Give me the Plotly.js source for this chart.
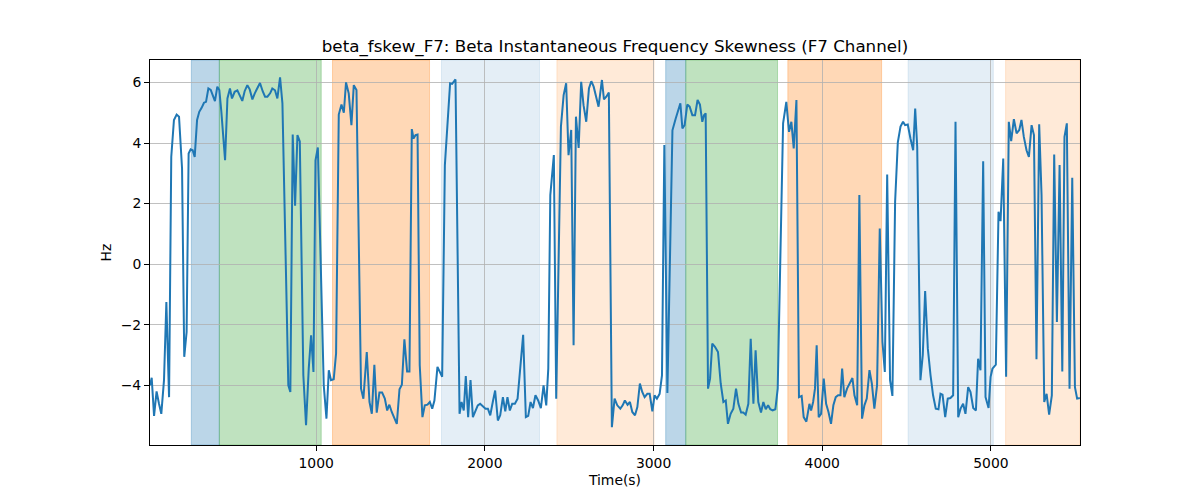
<!DOCTYPE html>
<html>
<head>
<meta charset="utf-8">
<script src="https://cdn.plot.ly/plotly-3.0.1.min.js"></script>
<style>html,body{margin:0;padding:0;background:#fff;}#chart{width:1200px;height:500px;}</style>
</head>
<body>
<div id="chart"></div>
<script>
// Time (s) of each sample
const timeSec = [15,25,39,54,68,82,98,112,128,141,157,173,187,205,218,232,244,256,268,280,294,307,321,335,347,361,375,386,400,414,426,438,450,460,474,489,501,517,533,547,562,576,592,606,622,636,651,667,683,697,711,727,740,756,770,786,800,
835,847,861,875,889,903,924,940,956,970,984,996,1010,1045,1061,1075,1088,1104,1118,1134,1150,1164,1177,1193,1209,1223,1239,
1266,1280,1300,1316,1330,1345,1359,1375,1391,1407,1421,1434,1448,1464,1478,1494,1508,1523,1539,1553,1567,1577,1589,1601,1614,1630,1644,1660,1674,1688,1701,1719,1733,1747,1763,1779,1794,1806,1816,1826,
1850,1862,1875,1887,1901,1915,1929,1945,1958,1972,1988,2004,2018,2032,2047,2061,2077,2091,2107,2121,2134,2148,2162,2178,2194,2210,2227,2243,2257,2271,2285,2300,2316,2332,2348,2364,2376,2388,2399,2409,2423,2437,2451,2467,2482,2496,2512,2526,2540,2556,2571,2585,2601,2617,2631,2645,2660,2674,2694,2706,2720,2735,
2753,2769,2785,2803,2817,2830,2846,2860,2874,2890,2904,2919,2933,2947,2963,2977,2993,3006,3020,3036,3050,3064,3082,3112,3131,3147,3159,3171,3184,3200,3214,3230,3246,3261,3275,3289,3299,3309,
3323,3335,3348,3364,3382,3398,3414,3428,3441,3457,3473,3489,3503,3519,3532,3546,3562,3576,3592,3605,3621,3637,3651,3665,3679,3692,3706,3722,3736,3752,3768,3787,3803,3817,3831,3847,3862,3878,3890,3906,
3924,3934,3946,3957,3967,3979,3993,4009,4023,4037,4052,4066,4080,4094,4108,4118,4131,4147,4163,4179,4191,4207,4220,4236,4250,4264,4280,4294,4309,4325,4341,4357,4371,4385,4402,4416,4432,4448,4464,4479,4491,4507,4523,4539,4551,4563,4582,4596,4610,4626,4642,4657,4673,4689,
4701,4713,4729,4744,4760,4776,4790,4806,4820,4835,4849,4865,4879,4895,4911,4924,4938,4954,4968,4986,4998,5009,5029,5045,5057,5073,5090,5106,5120,5136,5152,5168,5181,5195,5211,5225,5241,5255,5270,5286,5300,5316,5330,5345,5361,5375,5391,5407,5423,5436,5450,5466,5482,5498,5511,5527];

// Beta instantaneous frequency skewness (Hz)
const skewHz = [-4.0,-3.75,-5.01,-4.2,-4.6,-4.94,-3.83,-1.25,-4.39,3.54,4.76,4.94,4.87,3.16,-3.06,-2.24,3.65,3.79,3.76,3.54,4.76,5.03,5.16,5.33,5.36,5.8,5.75,5.56,5.38,5.86,5.75,5.03,4.15,3.43,5.47,5.8,5.47,5.69,5.74,5.58,5.39,5.71,5.91,5.77,5.44,5.64,5.8,5.98,5.71,5.53,5.53,5.64,5.8,5.74,5.47,6.17,5.31,
-4.0,-4.22,4.28,1.93,4.26,4.05,-3.67,-5.32,-3.45,-2.35,-3.56,3.43,3.85,-4.0,-5.1,-3.5,-3.83,-3.8,-2.95,4.94,5.27,5.0,6.0,5.64,4.59,5.91,5.75,
-4.11,-4.44,-2.9,-4.55,-4.94,-3.32,-4.9,-4.24,-4.24,-4.44,-4.83,-4.64,-4.88,-5.1,-5.27,-4.13,-3.98,-2.48,-3.54,-3.54,4.46,4.15,4.26,4.28,-3.34,-5.05,-4.66,-4.64,-4.55,-4.77,-4.5,-3.39,-3.54,-3.72,3.27,4.65,5.97,5.95,6.05,6.1,
-4.94,-4.55,-4.83,-3.69,-5.05,-3.83,-5.05,-4.83,-4.66,-4.61,-4.68,-4.77,-4.77,-4.99,-4.55,-4.17,-5.16,-4.99,-4.39,-4.86,-4.39,-4.83,-4.61,-4.61,-4.44,-3.34,-2.33,-5.05,-5.01,-4.55,-4.75,-4.33,-4.5,-4.75,-4.0,-4.66,-3.45,2.28,2.94,3.6,-4.44,-0.15,4.54,5.58,5.97,3.6,4.43,-2.68,4.87,3.84,6.02,5.25,4.7,5.8,6.04,5.86,5.53,5.2,6.08,5.44,5.53,5.67,
-5.38,-4.44,-4.66,-4.77,-4.66,-4.5,-4.64,-4.55,-4.88,-4.99,-4.72,-3.94,-4.22,-4.39,-4.28,-4.28,-4.86,-4.33,-4.44,-4.28,-3.67,3.93,-4.25,4.42,4.8,5.14,5.31,4.48,4.59,5.27,5.2,4.92,4.92,5.42,5.27,4.7,4.92,4.98,
-4.11,-3.78,-2.62,-2.73,-2.9,-3.94,-4.55,-4.5,-5.27,-4.94,-4.77,-4.11,-4.61,-4.9,-4.9,-4.97,-4.61,-2.46,-4.61,-2.84,-4.55,-4.9,-4.55,-4.79,-4.66,-4.79,-4.83,-4.79,-4.11,0.3,4.65,5.36,4.37,4.7,3.82,5.42,-4.39,-4.35,-5.05,-5.2,
-4.61,-4.83,-4.55,-4.11,-2.68,-5.05,-4.94,-3.78,-4.61,-4.88,-5.27,-4.66,-4.39,-4.33,-4.33,-3.45,-4.39,-4.11,-3.94,-3.76,-4.33,-4.66,2.28,-5.1,-4.66,-4.44,-3.5,-3.94,-4.77,-4.0,1.18,-2.57,-3.56,2.96,-3.83,-4.35,2.06,4.02,4.54,4.7,4.59,4.61,4.15,3.76,5.14,3.87,-3.83,-3.0,-0.89,-2.79,-3.67,-4.33,-4.77,-4.79,
-4.28,-4.31,-5.05,-4.44,-4.42,-4.33,4.7,-5.05,-4.77,-4.61,-4.94,-4.06,-4.22,-4.75,-4.83,-3.12,-3.5,3.4,-4.39,-4.75,-3.72,-3.45,-3.32,1.73,1.42,3.49,-3.72,4.7,4.06,4.79,4.32,4.43,4.76,4.2,3.76,3.54,4.59,4.26,-3.14,4.62,2.28,-4.55,-4.28,-4.97,-4.33,3.62,-1.91,3.27,-3.54,4.2,4.65,-4.11,2.85,-4.06,-4.44,-4.42];

// Shaded epochs
const spanStart = [260,426,1097,1743,2427,3072,3191,3796,4509,5087];
const spanEnd   = [426,1030,1672,2324,3003,3191,3735,4352,5014,5528];
const spanKind  = ['blue','green','orange','lightblue','lightorange','blue','green','orange','lightblue','lightorange'];

const yTicks = [-4,-2,0,2,4,6];
const xTicks = [1000,2000,3000,4000,5000];

const kindColor = {
  blue: 'rgba(31,119,180,0.3)',
  green: 'rgba(44,160,44,0.3)',
  orange: 'rgba(255,127,14,0.3)',
  lightblue: 'rgba(31,119,180,0.12)',
  lightorange: 'rgba(255,127,14,0.16)'
};

const shapes = spanStart.map((s, i) => ({
  type: 'rect', xref: 'x', yref: 'paper', x0: s, x1: spanEnd[i], y0: 0, y1: 1,
  fillcolor: kindColor[spanKind[i]], line: {color: kindColor[spanKind[i]], width: 1}, layer: 'below'
}));

const font = 'DejaVu Sans, sans-serif';
const trace = {
  x: timeSec, y: skewHz, type: 'scatter', mode: 'lines',
  line: {color: '#1f77b4', width: 2}, hoverinfo: 'skip'
};

const layout = {
  width: 1200, height: 500,
  margin: {l: 150, r: 120, t: 60, b: 55},
  paper_bgcolor: '#fff', plot_bgcolor: 'rgba(0,0,0,0)',
  showlegend: false,
  font: {family: font, size: 13.9, color: '#000'},
  title: {text: 'beta_fskew_F7: Beta Instantaneous Frequency Skewness (F7 Channel)',
    font: {family: font, size: 16.7, color: '#000'},
    x: 0.5, xref: 'paper', xanchor: 'center', y: 0.908, yref: 'container', yanchor: 'middle'},
  xaxis: {
    range: [15, 5528], tickvals: xTicks, ticktext: xTicks.map(String),
    showgrid: true, gridcolor: '#b0b0b0', gridwidth: 0.8, zeroline: false,
    showline: true, linecolor: '#000', linewidth: 1, mirror: true,
    ticks: 'outside', ticklen: 5, tickcolor: '#000', tickwidth: 1,
    title: {text: 'Time(s)', font: {family: font, size: 13.9, color: '#000'}, standoff: 5},
    automargin: false
  },
  yaxis: {
    range: [-5.97, 6.74], tickvals: yTicks, ticktext: yTicks.map(v => v < 0 ? '\u2212' + Math.abs(v) : String(v)),
    showgrid: true, gridcolor: '#b0b0b0', gridwidth: 0.8, zeroline: false,
    showline: true, linecolor: '#000', linewidth: 1, mirror: true,
    ticks: 'outside', ticklen: 5, tickcolor: '#000', tickwidth: 1,
    title: {text: 'Hz', font: {family: font, size: 13.9, color: '#000'}, standoff: 5},
    automargin: false
  },
  shapes: shapes
};

Plotly.newPlot('chart', [trace], layout, {staticPlot: true, displayModeBar: false});
</script>
</body>
</html>
